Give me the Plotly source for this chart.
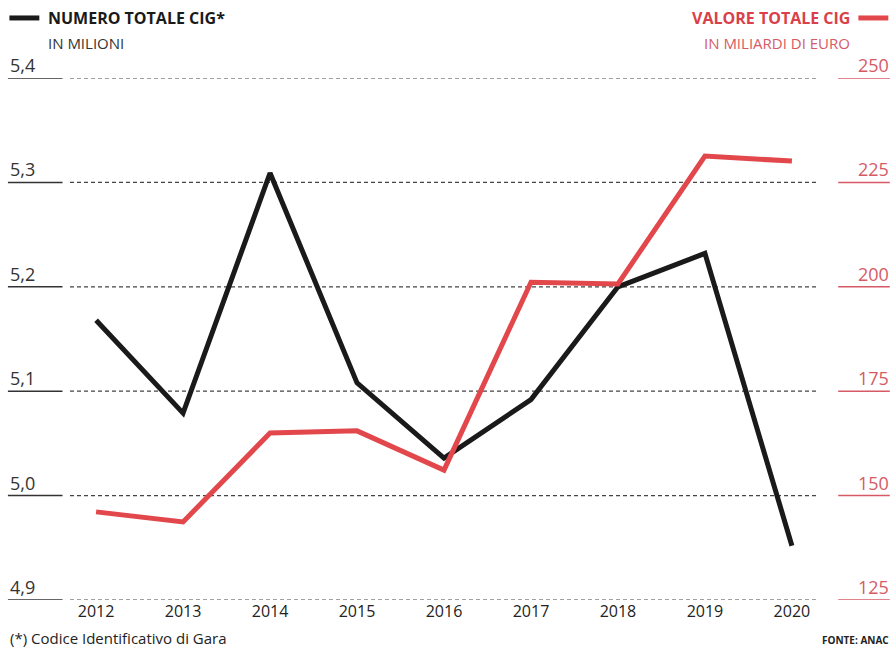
import plotly.graph_objects as go

years = [2012, 2013, 2014, 2015, 2016, 2017, 2018, 2019, 2020]
numero_cig = [5.168, 5.079, 5.309, 5.108, 5.036, 5.092, 5.200, 5.232, 4.952]
valore_cig = [146.1, 143.7, 165.0, 165.5, 156.1, 201.1, 200.7, 231.3, 230.1]
left_ticks = [4.9, 5.0, 5.1, 5.2, 5.3, 5.4]
left_labels = ["4,9", "5,0", "5,1", "5,2", "5,3", "5,4"]
right_ticks = [125, 150, 175, 200, 225, 250]
right_labels = ["125", "150", "175", "200", "225", "250"]

BLACK = "#1a1a1a"
RED = "#e2474b"
RED_TXT = "#d9404a"
RED_LIGHT = "#d65a66"
FONT = "Open Sans"

fig = go.Figure()
fig.add_trace(go.Scatter(x=years, y=valore_cig, mode="lines", yaxis="y2",
                         line=dict(color=RED, width=5), showlegend=False))
fig.add_trace(go.Scatter(x=years, y=numero_cig, mode="lines", yaxis="y",
                         line=dict(color=BLACK, width=5), showlegend=False))

shapes = []
annotations = []
for v, lab in zip(left_ticks, left_labels):
    shapes.append(dict(type="line", xref="paper", yref="y", x0=-0.083, x1=-0.01,
                       y0=v, y1=v, line=dict(color="#333", width=1.5)))
    shapes.append(dict(type="line", xref="paper", yref="y", x0=0, x1=1,
                       y0=v, y1=v, line=dict(color="#444", width=1.2, dash="4px,3px"), layer="below"))
    annotations.append(dict(x=-0.083, y=v, xref="paper", yref="y", text=lab,
                            xanchor="left", yanchor="bottom", showarrow=False, yshift=-1,
                            font=dict(family=FONT, size=18, color="#333")))
for v, lab in zip(right_ticks, right_labels):
    shapes.append(dict(type="line", xref="paper", yref="y2", x0=1.027, x1=1.096,
                       y0=v, y1=v, line=dict(color=RED_LIGHT, width=1.5)))
    annotations.append(dict(x=1.097, y=v, xref="paper", yref="y2", text=lab,
                            xanchor="right", yanchor="bottom", showarrow=False, yshift=-1,
                            font=dict(family=FONT, size=18, color=RED_LIGHT)))

# legends (paper y: pixel 18 -> 1.115, pixel 42 -> 1.069)
shapes.append(dict(type="line", xref="paper", yref="paper", x0=-0.081, x1=-0.041,
                   y0=1.115, y1=1.115, line=dict(color=BLACK, width=5)))
annotations.append(dict(x=-0.032, y=1.115, xref="paper", yref="paper",
                        text="<b>NUMERO TOTALE CIG*</b>", xanchor="left", yanchor="middle",
                        showarrow=False, font=dict(family=FONT, size=16, color=BLACK)))
annotations.append(dict(x=-0.032, y=1.067, xref="paper", yref="paper",
                        text="IN MILIONI", xanchor="left", yanchor="middle",
                        showarrow=False, font=dict(family=FONT, size=15, color="#333")))
shapes.append(dict(type="line", xref="paper", yref="paper", x0=1.054, x1=1.094,
                   y0=1.115, y1=1.115, line=dict(color=RED, width=5)))
annotations.append(dict(x=1.045, y=1.115, xref="paper", yref="paper",
                        text="<b>VALORE TOTALE CIG</b>", xanchor="right", yanchor="middle",
                        showarrow=False, font=dict(family=FONT, size=16, color=RED_TXT)))
annotations.append(dict(x=1.045, y=1.067, xref="paper", yref="paper",
                        text="IN MILIARDI DI EURO", xanchor="right", yanchor="middle",
                        showarrow=False, font=dict(family=FONT, size=15, color=RED_LIGHT)))
# footnotes
annotations.append(dict(x=-0.083, y=-0.073, xref="paper", yref="paper",
                        text="(*) Codice Identificativo di Gara", xanchor="left", yanchor="middle",
                        showarrow=False, font=dict(family=FONT, size=15, color="#222")))
annotations.append(dict(x=1.097, y=-0.076, xref="paper", yref="paper",
                        text="<b>FONTE: ANAC</b>", xanchor="right", yanchor="middle",
                        showarrow=False, font=dict(family=FONT, size=10, color="#222")))

fig.update_layout(
    width=893, height=653,
    margin=dict(l=70, r=75, t=78, b=53),
    paper_bgcolor="white", plot_bgcolor="white",
    xaxis=dict(range=[2011.7, 2020.3], tickvals=years, ticktext=[str(y) for y in years],
               showgrid=False, zeroline=False, showline=False, ticks="",
               tickfont=dict(family=FONT, size=16, color="#222")),
    yaxis=dict(range=[4.9, 5.4], showgrid=False, zeroline=False, showticklabels=False,
               showline=False),
    yaxis2=dict(range=[125, 250], overlaying="y", side="right", showgrid=False,
                zeroline=False, showticklabels=False, showline=False),
    shapes=shapes, annotations=annotations,
)
fig.write_html("out.html")
